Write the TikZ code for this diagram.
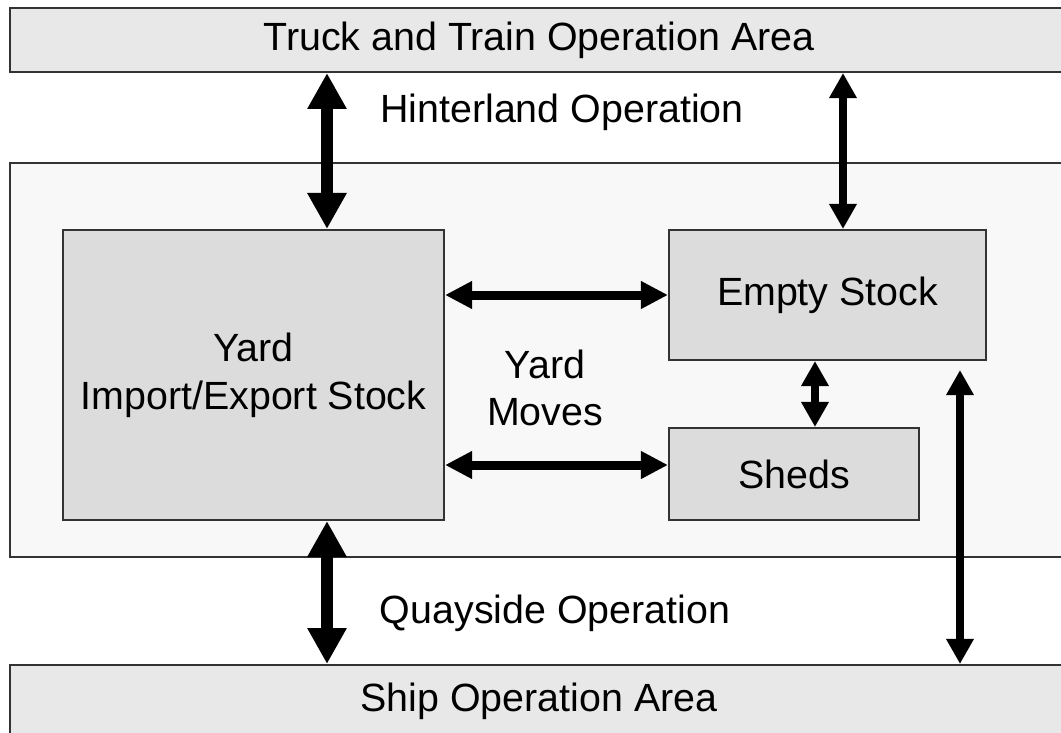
\documentclass[tikz,border=0pt]{standalone}
\usepackage{fontspec}
\setmainfont{Liberation Sans}
\usetikzlibrary{arrows.meta}
\usetikzlibrary{positioning}

\definecolor{areagray}{HTML}{E8E8E8}
\definecolor{zonegray}{HTML}{F8F8F8}
\definecolor{stockgray}{HTML}{DCDCDC}
\definecolor{edgegray}{HTML}{333333}

\tikzset{
  area/.style={
    draw=edgegray, line width=1.4pt, fill=areagray,
    minimum width=26.45cm, minimum height=1.6cm,
    inner sep=0pt, font=\fontsize{28}{34}\selectfont
  },
  zone/.style={
    draw=edgegray, line width=1.4pt, fill=zonegray,
    inner sep=0pt
  },
  stock/.style={
    draw=edgegray, line width=1.4pt, fill=stockgray,
    inner sep=0pt, align=center,
    font=\fontsize{28}{34}\selectfont
  },
  label/.style={align=center, font=\fontsize{28}{34}\selectfont},
  heavy flow/.style={
    line width=9.2pt,
    {Triangle[width=26.3pt,length=25.6pt]}-{Triangle[width=26.3pt,length=25.6pt]}
  },
  yard flow/.style={
    line width=6.4pt,
    {Triangle[width=18.5pt,length=19.2pt]}-{Triangle[width=18.5pt,length=19.2pt]}
  },
  light flow/.style={
    line width=5pt,
    {Triangle[width=18.5pt,length=17.8pt]}-{Triangle[width=18.5pt,length=17.8pt]}
  },
}

\begin{document}
\begin{tikzpicture}[x=0.025cm,y=-0.025cm]
  \useasboundingbox (0,0) rectangle (1061,732);
  \clip (0,0) rectangle (1061,732);

  % outer areas
  \node[area] (truck) at (539,40) {Truck and Train Operation Area};
  \node[area, minimum height=1.8cm] (ship) at (539,701) {Ship Operation Area};
  \node[zone, minimum width=26.45cm, minimum height=9.85cm] (terminal) at (539,360) {};

  % stocks in the terminal
  \node[stock, minimum width=9.525cm, minimum height=7.25cm] (yard) at (253.5,375)
    {Yard\\Import/Export Stock};
  \node[stock, minimum width=7.925cm, minimum height=3.25cm] (empty) at (827.5,295)
    {Empty Stock};
  \node[stock, minimum width=6.25cm, minimum height=2.3cm] (sheds) at (794,474)
    {Sheds};

  \node[label] (hinterland) at (562,112) {Hinterland Operation};
  \node[label] (moves) at (545,388) {Yard\\Moves};
  \node[label] (quayside) at (555,613) {Quayside Operation};

  % columns and free ends
  \coordinate (heavycol) at (327,0);
  \coordinate (emptycol) at (843,0);
  \coordinate (shedcol) at (815,0);
  \coordinate (shiprow) at (960,370);
  \coordinate (shedrow) at (0,465);

  % flows
  \draw[heavy flow] (truck.south -| heavycol) -- (yard.north -| heavycol);
  \draw[heavy flow] (yard.south -| heavycol) -- (ship.north -| heavycol);
  \draw[light flow] (truck.south -| emptycol) -- (empty.north -| emptycol);
  \draw[yard flow] (yard.east |- empty.west) -- (empty.west);
  \draw[yard flow] (yard.east |- shedrow) -- (sheds.west |- shedrow);
  \draw[light flow] (empty.south -| shedcol) -- (sheds.north -| shedcol);
  \draw[light flow] (shiprow) -- (ship.north -| shiprow);
\end{tikzpicture}
\end{document}
